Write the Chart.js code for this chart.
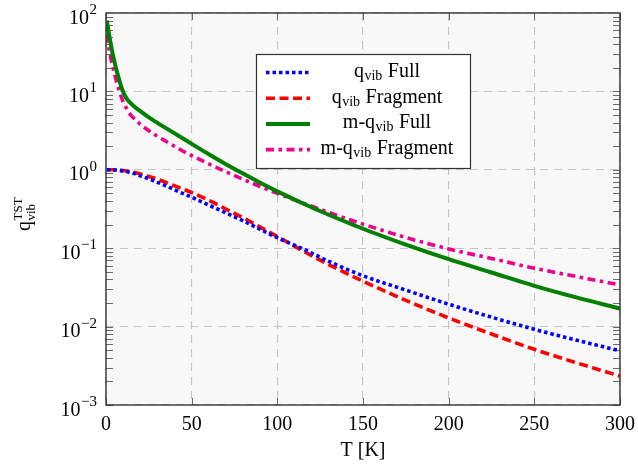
<!DOCTYPE html>
<html><head><meta charset="utf-8">
<script src="https://cdn.jsdelivr.net/npm/chart.js@4"></script>
<style>html,body{margin:0;padding:0;background:#fff;}canvas{display:block;}</style>
</head><body>
<canvas id="c" width="638" height="470"></canvas>
<script>
// ---- data ----
const temperatures = [0.5, 1, 2, 3, 4, 5, 6, 7, 8, 9, 10, 11, 12, 13, 16, 20, 25, 30, 35, 43, 50, 60, 70, 80, 90, 100, 115, 130, 150, 175, 200, 225, 250, 275, 300];
const qvibFull = [1.0, 1.0, 1.0, 0.998, 0.995, 0.993, 0.991, 0.985, 0.979, 0.972, 0.966, 0.958, 0.949, 0.940, 0.902, 0.841, 0.767, 0.692, 0.624, 0.519, 0.447, 0.355, 0.282, 0.224, 0.174, 0.136, 0.0977, 0.068, 0.0445, 0.0292, 0.0193, 0.0132, 0.00923, 0.00668, 0.00492];
const qvibFragment = [1.0, 1.0, 1.0, 1.0, 1.0, 1.0, 0.993, 0.990, 0.986, 0.982, 0.977, 0.971, 0.965, 0.959, 0.933, 0.887, 0.822, 0.759, 0.692, 0.589, 0.513, 0.407, 0.316, 0.245, 0.186, 0.141, 0.0923, 0.0617, 0.0380, 0.0216, 0.0129, 0.00804, 0.00513, 0.00343, 0.00234];
const mqvibFull = [80.0, 68.0, 50.0, 37.8, 29.4, 23.6, 19.2, 15.9, 13.3, 11.3, 9.91, 8.87, 8.14, 7.59, 6.57, 5.59, 4.67, 3.97, 3.40, 2.66, 2.14, 1.58, 1.18, 0.894, 0.684, 0.531, 0.372, 0.267, 0.177, 0.111, 0.0724, 0.0490, 0.0331, 0.0234, 0.0170];
const mqvibFragment = [53.0, 43.8, 32.6, 25.4, 20.4, 16.6, 13.7, 11.5, 9.77, 8.43, 7.39, 6.66, 6.05, 5.51, 4.61, 3.81, 3.15, 2.68, 2.31, 1.83, 1.52, 1.19, 0.943, 0.757, 0.612, 0.501, 0.376, 0.286, 0.203, 0.137, 0.098, 0.0739, 0.0556, 0.0433, 0.0340];
const xTickValues = [0, 50, 100, 150, 200, 250, 300];
const yTickExponents = [-3, -2, -1, 0, 1, 2];
const legendLabels = [
  {pre: '', sub: 'vib', post: ' Full'},
  {pre: '', sub: 'vib', post: ' Fragment'},
  {pre: 'm-', sub: 'vib', post: ' Full'},
  {pre: 'm-', sub: 'vib', post: ' Fragment'}
];
const xTitle = 'T [K]';

const FONT = '"Liberation Serif", "DejaVu Serif", serif';
const COLORS = ['#0000ff', '#ff0000', '#008000', '#ec008c'];
const DASHES = [[3.5, 3], [9, 4.5], [], [8, 4.5, 3.5, 4.5]];
const WIDTHS = [3.6, 3.6, 4, 3.6];
const seriesList = [qvibFull, qvibFragment, mqvibFull, mqvibFragment];

const datasets = seriesList.map((s, i) => ({
  label: legendLabels[i].pre + 'q' + legendLabels[i].sub + legendLabels[i].post,
  data: temperatures.map((t, j) => ({x: t, y: s[j]})),
  borderColor: COLORS[i],
  borderWidth: WIDTHS[i],
  borderDash: DASHES[i],
  borderCapStyle: 'butt',
  pointRadius: 0,
  fill: false,
  cubicInterpolationMode: 'monotone'
}));

const isMajor = v => Math.abs(Math.log10(v) - Math.round(Math.log10(v))) < 1e-6;

const deco = {
  id: 'deco',
  beforeDraw(chart) {
    const {ctx, chartArea: a} = chart;
    ctx.save();
    ctx.fillStyle = '#f8f8f8';
    ctx.fillRect(a.left, a.top, a.right - a.left, a.bottom - a.top);
    ctx.restore();
  },
  beforeDatasetsDraw(chart) {
    const {ctx, chartArea: a, scales: {x, y}} = chart;
    ctx.save();
    ctx.strokeStyle = '#6a6a6a';
    ctx.lineWidth = 1;
    ctx.beginPath();
    for (let e = -3; e < 2; e++) {
      for (let m = 1; m <= 9; m++) {
        const py = Math.round(y.getPixelForValue(m * Math.pow(10, e))) + 0.5;
        ctx.moveTo(a.left, py); ctx.lineTo(a.left + 7, py);
        ctx.moveTo(a.right, py); ctx.lineTo(a.right - 7, py);
      }
    }
    xTickValues.forEach(v => {
      const px = Math.round(x.getPixelForValue(v)) + 0.5;
      ctx.moveTo(px, a.bottom); ctx.lineTo(px, a.bottom - 7);
      ctx.moveTo(px, a.top); ctx.lineTo(px, a.top + 7);
    });
    ctx.stroke();
    ctx.restore();
  },
  afterDatasetsDraw(chart) {
    const {ctx, chartArea: a} = chart;
    ctx.save();
    ctx.strokeStyle = '#333';
    ctx.lineWidth = 1.4;
    ctx.strokeRect(a.left, a.top, a.right - a.left, a.bottom - a.top);
    // legend box
    const bx = 256, by = 54, bw = 214, bh = 114;
    ctx.fillStyle = '#fff';
    ctx.fillRect(bx, by, bw, bh);
    ctx.lineWidth = 1.2;
    ctx.strokeStyle = '#333';
    ctx.strokeRect(bx + 0.5, by + 0.5, bw, bh);
    legendLabels.forEach((lab, i) => {
      const ly = 72.5 + i * 25.7;
      ctx.save();
      ctx.strokeStyle = COLORS[i];
      ctx.lineWidth = WIDTHS[i];
      ctx.setLineDash(DASHES[i]);
      ctx.lineCap = 'butt';
      ctx.beginPath();
      ctx.moveTo(266, ly); ctx.lineTo(310, ly);
      ctx.stroke();
      ctx.restore();
      const base = 77 + i * 25.7;
      ctx.fillStyle = '#000';
      ctx.textAlign = 'left';
      ctx.textBaseline = 'alphabetic';
      ctx.font = '20px ' + FONT;
      const wPre = ctx.measureText(lab.pre + 'q').width;
      const wPost = ctx.measureText(lab.post).width;
      ctx.font = '14px ' + FONT;
      const wSub = ctx.measureText(lab.sub).width + 1;
      let sx = 387 - (wPre + wSub + wPost) / 2;
      ctx.font = '20px ' + FONT;
      ctx.fillText(lab.pre + 'q', sx, base);
      sx += wPre;
      ctx.font = '14px ' + FONT;
      ctx.fillText(lab.sub, sx + 0.5, base + 3);
      sx += wSub;
      ctx.font = '20px ' + FONT;
      ctx.fillText(lab.post, sx, base);
    });
    ctx.restore();
  },
  afterDraw(chart) {
    const {ctx, scales: {x, y}} = chart;
    ctx.save();
    ctx.fillStyle = '#000';
    ctx.textBaseline = 'alphabetic';
    // y tick labels
    yTickExponents.forEach(e => {
      const py = y.getPixelForValue(Math.pow(10, e));
      const expStr = e < 0 ? '\u2212' + (-e) : String(e);
      ctx.font = '15px ' + FONT;
      ctx.textAlign = 'right';
      const wExp = ctx.measureText(expStr).width;
      ctx.fillText(expStr, 97, py + 1);
      ctx.font = '20px ' + FONT;
      ctx.fillText('10', 97 - wExp - 0.5, py + 10.5);
    });
    // x tick labels
    ctx.font = '20px ' + FONT;
    ctx.textAlign = 'center';
    xTickValues.forEach(v => {
      ctx.fillText(String(v), x.getPixelForValue(v), 430);
    });
    // x title
    ctx.fillText(xTitle, (chart.chartArea.left + chart.chartArea.right) / 2, 456);
    // y title
    ctx.save();
    ctx.translate(30, 231);
    ctx.rotate(-Math.PI / 2);
    ctx.textAlign = 'left';
    ctx.font = '20px ' + FONT;
    ctx.fillText('q', 0, 0);
    const wq = ctx.measureText('q').width;
    ctx.font = '13px ' + FONT;
    ctx.fillText('vib', wq + 0.5, 4.5);
    ctx.fillText('TST', wq + 0.5, -8.5);
    ctx.restore();
    ctx.restore();
  }
};

new Chart(document.getElementById('c'), {
  type: 'line',
  data: {datasets},
  options: {
    responsive: false,
    animation: false,
    devicePixelRatio: 1,
    layout: {padding: {top: 13, right: 18, left: 0, bottom: 0}},
    plugins: {legend: {display: false}, tooltip: {enabled: false}},
    scales: {
      x: {
        type: 'linear', min: 0, max: 300,
        ticks: {display: false, stepSize: 50},
        grid: {color: '#c4c4c4', lineWidth: 1.1, drawTicks: false},
        border: {display: false, dash: [8, 6]},
        afterFit(s) { s.height = 65; }
      },
      y: {
        type: 'logarithmic', min: 1e-3, max: 1e2,
        ticks: {display: false},
        grid: {
          color: ctx => (ctx.tick && isMajor(ctx.tick.value)) ? '#c4c4c4' : 'rgba(0,0,0,0)',
          lineWidth: 1.1, drawTicks: false
        },
        border: {display: false, dash: [8, 6]},
        afterFit(s) { s.width = 106; }
      }
    }
  },
  plugins: [deco]
});
</script>
</body></html>
